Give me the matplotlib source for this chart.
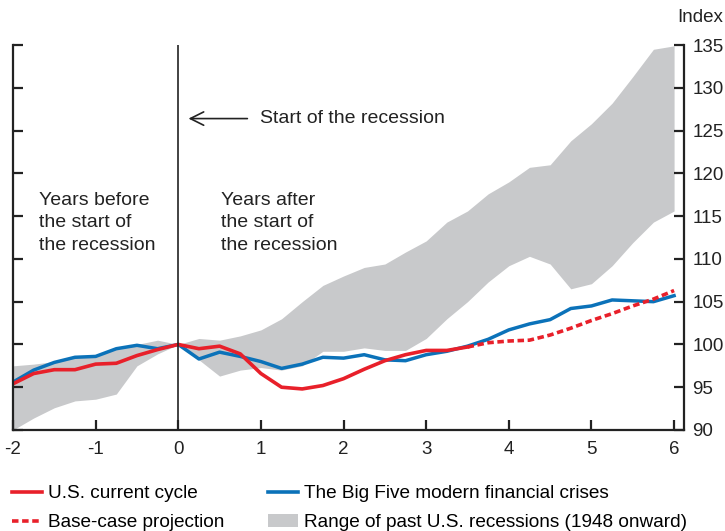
import numpy as np
import matplotlib
matplotlib.use("Agg")
import matplotlib.pyplot as plt
from matplotlib.lines import Line2D
from matplotlib.patches import Patch

plt.rcParams['font.family'] = ['Liberation Sans', 'DejaVu Sans']
plt.rcParams['axes.unicode_minus'] = False

# quarters relative to start of recession
quarters = np.arange(-2, 6.01, 0.25)

us_current = [95.4, 96.6, 97.05, 97.05, 97.7, 97.8, 98.7, 99.4, 100.0, 99.5, 99.8, 98.9,
              96.6, 95.0, 94.8, 95.2, 96.0, 97.1, 98.1, 98.8, 99.3, 99.3, 99.7]
projection = [99.7, 100.2, 100.4, 100.5, 101.1, 101.9, 102.8, 103.6, 104.5, 105.3, 106.3]
big_five = [95.6, 97.0, 97.9, 98.5, 98.6, 99.5, 99.9, 99.5, 100.0, 98.3, 99.1, 98.6,
            98.0, 97.2, 97.7, 98.5, 98.4, 98.8, 98.2, 98.1, 98.8, 99.2, 99.8, 100.6,
            101.7, 102.4, 102.9, 104.2, 104.5, 105.2, 105.1, 105.0, 105.7]
band_upper = [97.5, 97.7, 98.0, 98.6, 98.8, 99.6, 100.0, 100.5, 100.0, 100.7, 100.5, 101.0,
              101.7, 103.0, 105.0, 106.9, 108.0, 109.0, 109.4, 110.8, 112.1, 114.3, 115.6, 117.6,
              119.0, 120.7, 121.0, 123.8, 125.8, 128.2, 131.3, 134.5, 134.9]
band_lower = [90.0, 91.4, 92.6, 93.4, 93.6, 94.2, 97.5, 98.9, 100.0, 98.2, 96.3, 97.0,
              97.3, 97.0, 97.5, 99.2, 99.2, 99.6, 99.3, 99.3, 100.7, 103.0, 105.0, 107.3,
              109.2, 110.3, 109.4, 106.5, 107.1, 109.2, 111.9, 114.3, 115.6]

red = '#e8202a'
blue = '#0b72b9'
gray = '#c8c9cb'
ink = '#222222'
fs = 13.5
dash = (0, (1.8, 1.0))

fig = plt.figure(figsize=(7.25, 5.31), dpi=100)
ax = fig.add_axes([13 / 725, 1 - 430 / 531, (684 - 13) / 725, (430 - 45) / 531])

ax.fill_between(quarters, band_lower, band_upper, color=gray, lw=0)
ax.plot(quarters, big_five, color=blue, lw=2.5)
ax.plot(quarters[:len(us_current)], us_current, color=red, lw=2.6)
ax.plot(quarters[len(us_current) - 1:], projection, color=red, lw=2.6, ls=dash)
ax.axvline(0, color=ink, lw=1.2)

ax.set_xlim(-2, 6.12)
ax.set_ylim(90, 135)
ax.set_xticks(range(-2, 7))
ax.set_yticks(range(90, 136, 5))
ax.spines['top'].set_visible(False)
for s in ['left', 'right', 'bottom']:
    ax.spines[s].set_linewidth(1.6)
    ax.spines[s].set_color(ink)
ax.tick_params(axis='both', direction='in', length=7, width=1.6, labelsize=fs, colors=ink)
ax.tick_params(axis='x', pad=8)
ax.tick_params(axis='y', pad=6, left=True, right=True, labelleft=False, labelright=True)

fig.text(700 / 725, 1 - 17 / 531, 'Index', ha='center', va='center', fontsize=fs, color=ink)

ax.annotate('', xy=(0.09, 126.4), xytext=(0.87, 126.4),
            arrowprops=dict(arrowstyle='->', lw=1.2, color=ink, mutation_scale=24))
ax.text(0.99, 126.4, 'Start of the recession', va='center', ha='left', fontsize=14, color=ink)
ax.text(-1.685, 114.2, 'Years before\nthe start of\nthe recession', va='center', ha='left',
        fontsize=14, color=ink, linespacing=1.45)
ax.text(0.52, 114.2, 'Years after\nthe start of\nthe recession', va='center', ha='left',
        fontsize=14, color=ink, linespacing=1.45)

handles1 = [Line2D([], [], color=red, lw=2.6), Line2D([], [], color=red, lw=2.6, ls=dash)]
handles2 = [Line2D([], [], color=blue, lw=2.6), Patch(color=gray, lw=0)]
leg_kw = dict(loc='upper left', frameon=False, fontsize=13.7, handlelength=1.6,
              handletextpad=0.3, labelspacing=0.62, borderaxespad=0, borderpad=0)
fig.legend(handles1, ['U.S. current cycle', 'Base-case projection'],
           bbox_to_anchor=(12 / 725, 1 - 485 / 531), **leg_kw)
fig.legend(handles2, ['The Big Five modern financial crises', 'Range of past U.S. recessions (1948 onward)'],
           bbox_to_anchor=(268 / 725, 1 - 485 / 531), **leg_kw)

fig.savefig('out.png', dpi=100)
